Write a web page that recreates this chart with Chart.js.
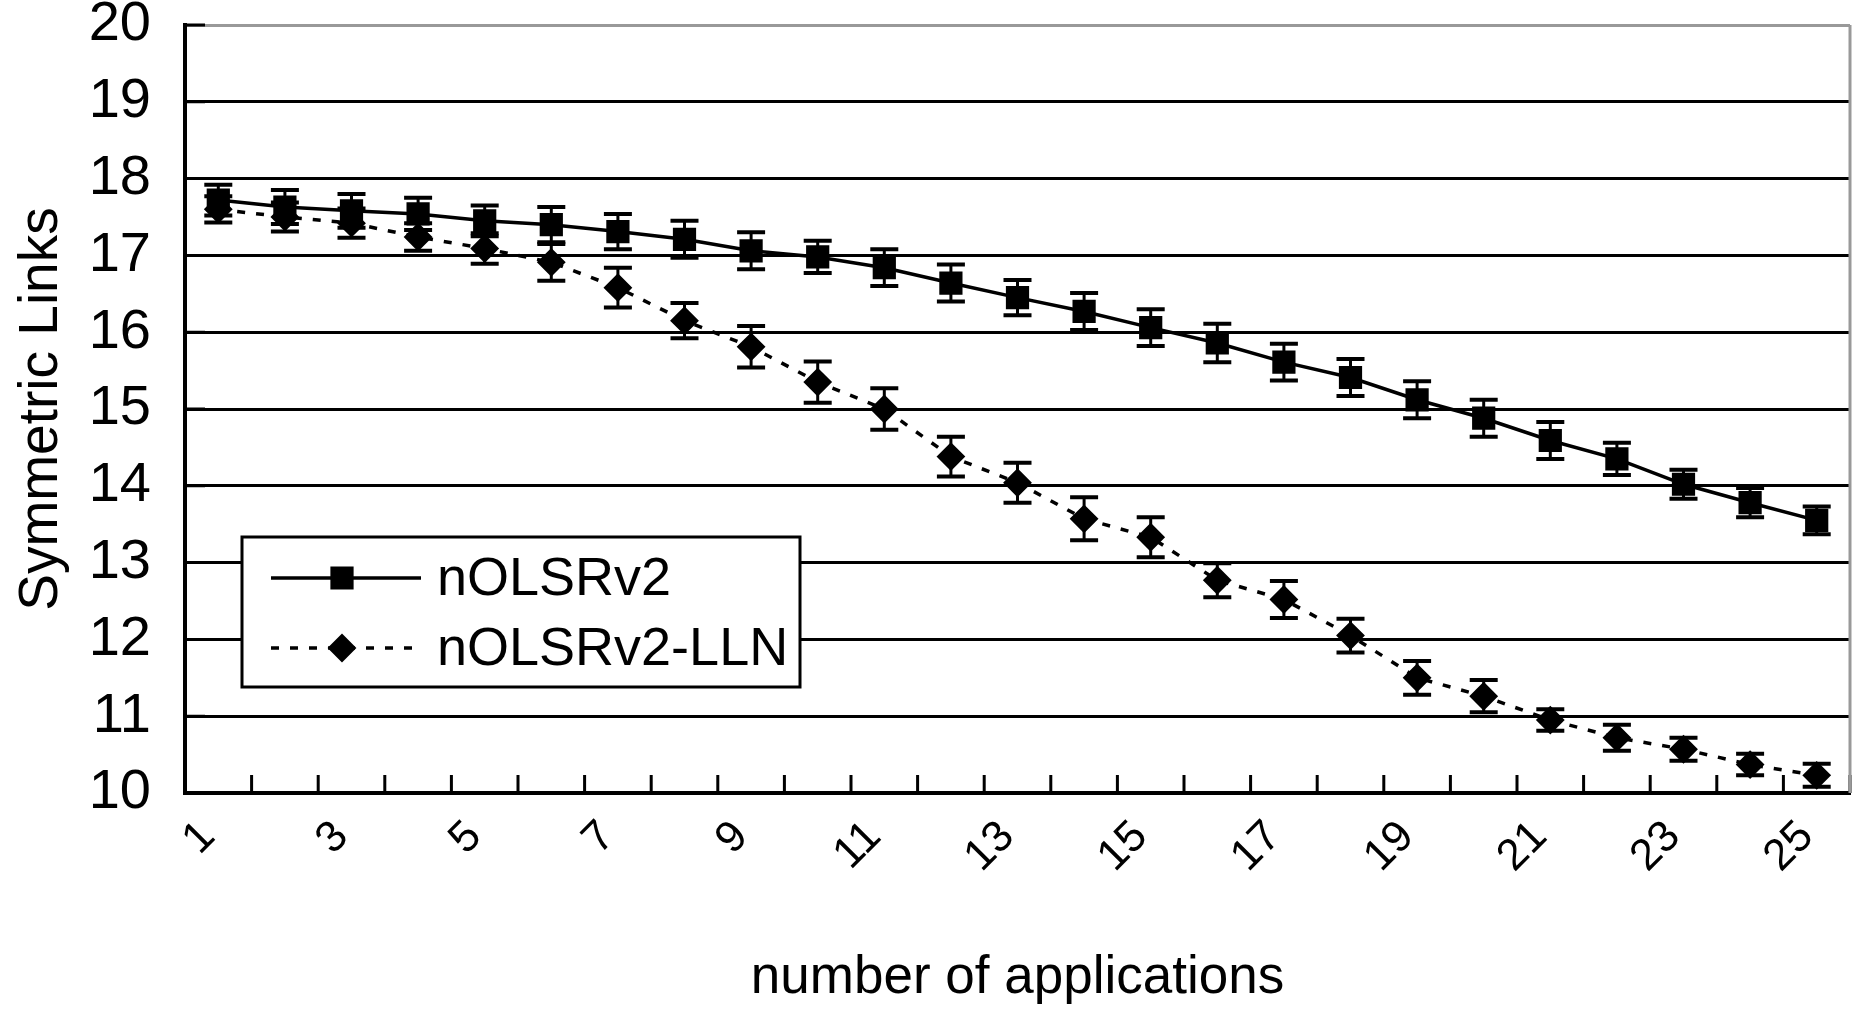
<!DOCTYPE html>
<html>
<head>
<meta charset="utf-8">
<title>Symmetric Links</title>
<script src="https://cdn.jsdelivr.net/npm/chart.js@4.4.1/dist/chart.umd.min.js"></script>
<style>
  html, body { margin: 0; padding: 0; background: #fff; }
  canvas { display: block; }
</style>
</head>
<body>
<canvas id="chart" width="1867" height="1011"></canvas>
<script>
const FONT = "'Liberation Sans', Arial, sans-serif";

const applications = ["1", "2", "3", "4", "5", "6", "7", "8", "9", "10", "11", "12", "13",
  "14", "15", "16", "17", "18", "19", "20", "21", "22", "23", "24", "25"];

const nolsrv2 = [17.72, 17.63, 17.58, 17.54, 17.45, 17.40, 17.31, 17.21, 17.06, 16.98, 16.84, 16.64, 16.45,
  16.27, 16.06, 15.86, 15.61, 15.41, 15.12, 14.88, 14.59, 14.35, 14.02, 13.78, 13.55];
const nolsrv2Err = [0.20, 0.22, 0.22, 0.21, 0.20, 0.23, 0.23, 0.24, 0.24, 0.21, 0.24, 0.24, 0.23,
  0.24, 0.24, 0.25, 0.24, 0.24, 0.24, 0.24, 0.24, 0.21, 0.19, 0.19, 0.18];

const nolsrv2Lln = [17.60, 17.50, 17.42, 17.24, 17.09, 16.91, 16.58, 16.15, 15.81, 15.35, 15.00, 14.38, 14.04,
  13.57, 13.33, 12.77, 12.52, 12.05, 11.50, 11.26, 10.95, 10.72, 10.57, 10.37, 10.23];
const nolsrv2LlnErr = [0.17, 0.19, 0.19, 0.18, 0.20, 0.24, 0.26, 0.23, 0.27, 0.27, 0.27, 0.26, 0.26,
  0.28, 0.26, 0.22, 0.24, 0.22, 0.22, 0.21, 0.14, 0.17, 0.15, 0.14, 0.15];

// vertical error bars with caps
const errorBars = {
  id: "errorBars",
  afterDatasetsDraw(chart) {
    const ctx = chart.ctx;
    const y = chart.scales.y;
    ctx.save();
    ctx.strokeStyle = "#000";
    chart.data.datasets.forEach((ds, i) => {
      const meta = chart.getDatasetMeta(i);
      meta.data.forEach((pt, j) => {
        const top = y.getPixelForValue(ds.data[j] + ds.errors[j]);
        const bottom = y.getPixelForValue(ds.data[j] - ds.errors[j]);
        ctx.lineWidth = 3;
        ctx.beginPath();
        ctx.moveTo(pt.x, top);
        ctx.lineTo(pt.x, bottom);
        ctx.stroke();
        ctx.lineWidth = 4;
        ctx.beginPath();
        ctx.moveTo(pt.x - 14, top);
        ctx.lineTo(pt.x + 14, top);
        ctx.moveTo(pt.x - 14, bottom);
        ctx.lineTo(pt.x + 14, bottom);
        ctx.stroke();
      });
    });
    ctx.restore();
  },
};

// inward tick marks and the grey right border
const frame = {
  id: "frame",
  beforeDatasetsDraw(chart) {
    const { ctx, chartArea, scales } = chart;
    ctx.save();
    ctx.strokeStyle = "#000";
    ctx.lineWidth = 3;
    ctx.beginPath();
    for (let i = 0; i <= applications.length; i++) {
      const x = scales.x.getPixelForValue(i - 0.5);
      ctx.moveTo(x, chartArea.bottom);
      ctx.lineTo(x, chartArea.bottom - 18);
    }
    scales.y.ticks.forEach((t) => {
      const yy = scales.y.getPixelForValue(t.value);
      ctx.moveTo(chartArea.left, yy);
      ctx.lineTo(chartArea.left + 20, yy);
    });
    ctx.stroke();
    ctx.strokeStyle = "#999";
    ctx.beginPath();
    ctx.moveTo(chartArea.right, chartArea.top);
    ctx.lineTo(chartArea.right, chartArea.bottom);
    ctx.stroke();
    ctx.restore();
  },
};

// boxed legend inside the plot
const boxLegend = {
  id: "boxLegend",
  afterDraw(chart) {
    const { ctx, chartArea } = chart;
    const x0 = chartArea.left + 57;
    const y0 = chartArea.top + 512;
    ctx.save();
    ctx.fillStyle = "#fff";
    ctx.fillRect(x0, y0, 558, 150);
    ctx.strokeStyle = "#000";
    ctx.lineWidth = 3;
    ctx.strokeRect(x0, y0, 558, 150);
    chart.data.datasets.forEach((ds, i) => {
      const yy = y0 + 41 + i * 70;
      ctx.strokeStyle = "#000";
      ctx.lineWidth = ds.borderWidth;
      ctx.setLineDash(ds.borderDash || []);
      ctx.beginPath();
      ctx.moveTo(x0 + 29, yy);
      ctx.lineTo(x0 + 179, yy);
      ctx.stroke();
      ctx.setLineDash([]);
      ctx.fillStyle = "#000";
      ctx.lineWidth = ds.pointBorderWidth;
      Chart.helpers.drawPoint(ctx, {
        pointStyle: ds.pointStyle,
        radius: ds.pointRadius,
        borderWidth: ds.pointBorderWidth,
        rotation: 0,
      }, x0 + 100, yy);
      ctx.fillStyle = "#000";
      ctx.font = "54px " + FONT;
      ctx.textAlign = "left";
      ctx.textBaseline = "middle";
      ctx.fillText(ds.label, x0 + 195, yy + 2);
    });
    ctx.restore();
  },
};

new Chart(document.getElementById("chart"), {
  type: "line",
  data: {
    labels: applications,
    datasets: [
      {
        label: "nOLSRv2",
        data: nolsrv2,
        errors: nolsrv2Err,
        borderColor: "#000",
        borderWidth: 3.5,
        pointStyle: "rect",
        pointRadius: 15,
        pointBorderWidth: 2,
        pointBackgroundColor: "#000",
        pointBorderColor: "#000",
        tension: 0,
      },
      {
        label: "nOLSRv2-LLN",
        data: nolsrv2Lln,
        errors: nolsrv2LlnErr,
        borderColor: "#000",
        borderWidth: 3.5,
        borderDash: [8, 11],
        pointStyle: "rectRot",
        pointRadius: 13,
        pointBorderWidth: 2,
        pointBackgroundColor: "#000",
        pointBorderColor: "#000",
        tension: 0,
      },
    ],
  },
  options: {
    responsive: false,
    animation: false,
    events: [],
    layout: {
      padding: { top: 25, right: 8, left: 0, bottom: 0 },
    },
    plugins: {
      legend: { display: false },
      tooltip: { enabled: false },
    },
    scales: {
      x: {
        offset: true,
        grid: { drawOnChartArea: false, drawTicks: false, offset: true },
        border: { color: "#000", width: 4 },
        ticks: {
          autoSkip: false,
          minRotation: 45,
          maxRotation: 45,
          padding: 18,
          labelOffset: -10,
          color: "#000",
          font: { family: FONT, size: 44 },
          callback(value, index) {
            return index % 2 === 0 ? applications[index] : "";
          },
        },
        title: {
          display: true,
          text: "number of applications",
          color: "#000",
          font: { family: FONT, size: 53 },
          padding: { top: 0, bottom: 1 },
        },
        afterFit(scale) {
          scale.height = 218;
          scale.paddingLeft = 0;
          scale.paddingRight = 0;
        },
      },
      y: {
        min: 10,
        max: 20,
        ticks: {
          stepSize: 1,
          padding: 34,
          color: "#000",
          font: { family: FONT, size: 56, lineHeight: 1 },
        },
        grid: {
          color: (c) => (c.tick && c.tick.value === 20 ? "#999" : "#000"),
          lineWidth: 3,
          drawTicks: false,
        },
        border: { color: "#000", width: 4 },
        title: {
          display: true,
          text: "Symmetric Links",
          color: "#000",
          font: { family: FONT, size: 55 },
          padding: { top: 9, bottom: 0 },
        },
        afterFit(scale) {
          scale.width = 185;
          scale.paddingTop = 0;
          scale.paddingBottom = 0;
        },
      },
    },
  },
  plugins: [frame, errorBars, boxLegend],
});
</script>
</body>
</html>
